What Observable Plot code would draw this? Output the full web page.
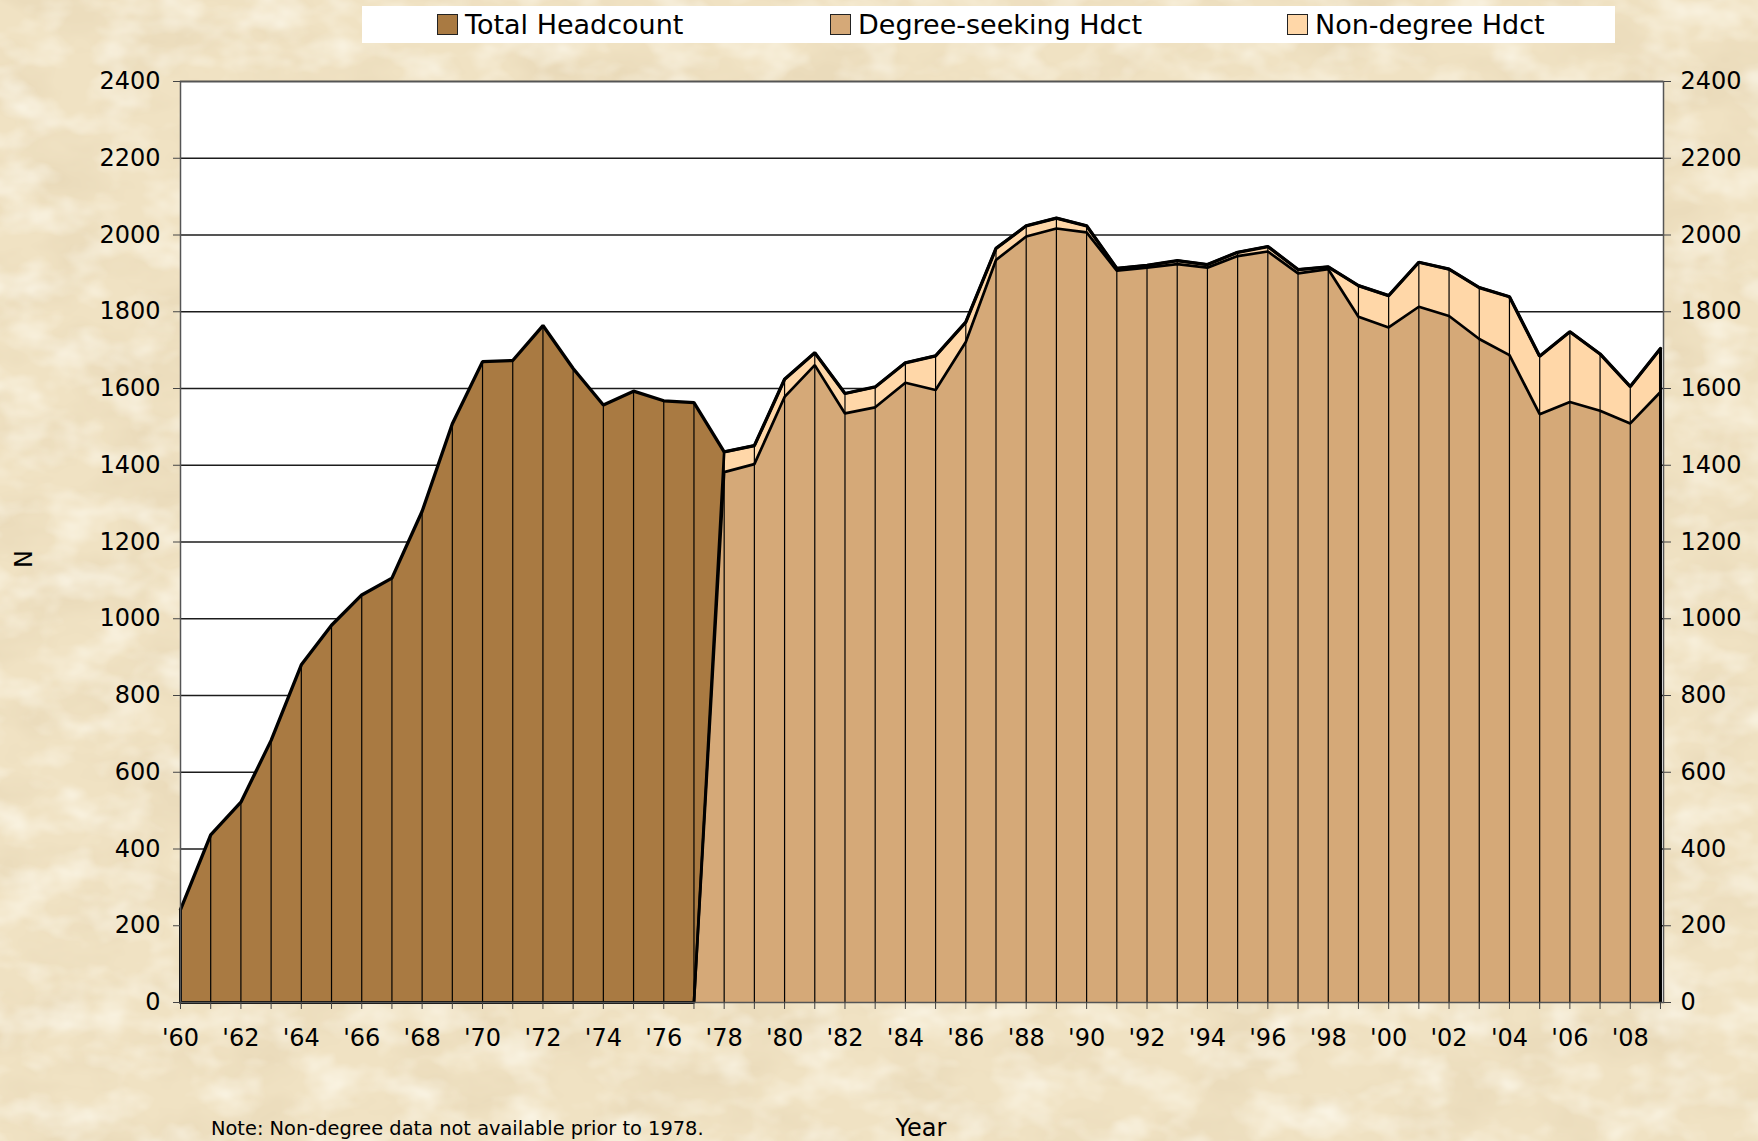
<!DOCTYPE html>
<html>
<head>
<meta charset="utf-8">
<script src="https://cdn.jsdelivr.net/npm/d3@7"></script>
<script src="https://cdn.jsdelivr.net/npm/@observablehq/plot@0.6"></script>
<style>
html, body { margin: 0; padding: 0; }
body { width: 1758px; height: 1141px; overflow: hidden; background: #EEDFBF; font-family: "DejaVu Sans", Verdana, sans-serif; }
#wrap { position: relative; width: 1758px; height: 1141px; overflow: hidden; }
#tex { position: absolute; left: 0; top: 0; width: 1758px; height: 1141px; }
#chart { position: absolute; left: 0; top: 0; }
#legend { position: absolute; left: 362px; top: 6px; width: 1253px; height: 37px; background: #ffffff; }
.item { position: absolute; top: 0; height: 37px; display: flex; align-items: center; font-size: 27px; color: #000; white-space: nowrap; }
.sw { width: 19px; height: 19px; border: 1px solid #222; margin-right: 7px; box-sizing: content-box; }
.lbl { position: absolute; color: #000; white-space: nowrap; }
</style>
</head>
<body>
<div id="wrap">
  <svg id="tex" width="1758" height="1141">
    <filter id="paper" x="0" y="0" width="100%" height="100%">
      <feTurbulence type="fractalNoise" baseFrequency="0.01 0.018" numOctaves="4" seed="7"/>
      <feColorMatrix type="matrix" values="0 0 0 0 0.78  0 0 0 0 0.66  0 0 0 0 0.45  0 0 0 1.3 -0.52"/>
    </filter>
    <filter id="paper2" x="0" y="0" width="100%" height="100%">
      <feTurbulence type="fractalNoise" baseFrequency="0.02 0.03" numOctaves="3" seed="21"/>
      <feColorMatrix type="matrix" values="0 0 0 0 1  0 0 0 0 0.98  0 0 0 0 0.9  0 0 0 1.4 -0.6"/>
    </filter>
    <rect width="1758" height="1141" fill="#F0E2C3"/>
    <rect width="1758" height="1141" filter="url(#paper)"/>
    <rect width="1758" height="1141" filter="url(#paper2)"/>
  </svg>
  <div id="chart"></div>
  <div id="legend"></div>
  <div class="lbl" id="ylab" style="left:12px; top:542px; font-size:24px; transform: rotate(-90deg); transform-origin: 12px 14px;">N</div>
  <div class="lbl" id="xlab" style="left:0; width:1842px; text-align:center; top:1114px; font-size:24px;">Year</div>
  <div class="lbl" id="note" style="left:211px; top:1117px; font-size:19.4px;">Note: Non-degree data not available prior to 1978.</div>
</div>
<script>
// ---- data ----
const years = [1960,1961,1962,1963,1964,1965,1966,1967,1968,1969,
               1970,1971,1972,1973,1974,1975,1976,1977,1978,1979,
               1980,1981,1982,1983,1984,1985,1986,1987,1988,1989,
               1990,1991,1992,1993,1994,1995,1996,1997,1998,1999,
               2000,2001,2002,2003,2004,2005,2006,2007,2008,2009];

const totalHeadcount = [242,437,522,683,880,983,1062,1106,1280,1508,
                        1670,1673,1764,1652,1557,1593,1568,1563,1435,1451,
                        1624,1693,1587,1604,1667,1685,1773,1965,2024,2044,
                        2024,1913,1921,1933,1923,1955,1970,1910,1917,1868,
                        1842,1929,1911,1863,1839,1684,1748,1690,1605,1704];

const degreeSeeking = [0,0,0,0,0,0,0,0,0,0,
                       0,0,0,0,0,0,0,0,1382,1403,
                       1578,1661,1535,1551,1615,1596,1721,1935,1996,2017,
                       2007,1907,1915,1924,1915,1945,1957,1900,1911,1787,
                       1759,1813,1789,1729,1687,1533,1565,1542,1509,1591];

const nonDegree = [0,0,0,0,0,0,0,0,0,0,
                   0,0,0,0,0,0,0,0,53,48,
                   46,32,52,53,52,89,52,30,28,27,
                   17,6,6,9,8,10,13,10,6,81,
                   83,116,122,134,152,151,183,148,96,113];

const yTicks = [0,200,400,600,800,1000,1200,1400,1600,1800,2000,2200,2400];

const seriesNames = ["Total Headcount", "Degree-seeking Hdct", "Non-degree Hdct"];
const seriesColors = ["#A97A42", "#D5A978", "#FFD7A8"];

// ---- table built from the arrays ----
const data = years.map((year, i) => ({
  year,
  total: totalHeadcount[i],
  degree: degreeSeeking[i],
  nondeg: nonDegree[i],
  stackTop: degreeSeeking[i] + nonDegree[i]
}));

const fmtYear = d => (d % 2 === 0 ? "'" + String(d).slice(2) : "");
const fmtN = d => String(d);

const chart = Plot.plot({
  width: 1758,
  height: 1141,
  marginLeft: 180,
  marginRight: 95,
  marginTop: 81,
  marginBottom: 139,
  style: { background: "transparent", fontFamily: "'DejaVu Sans', Verdana, sans-serif", fontSize: "24px", color: "#000", overflow: "visible" },
  x: { type: "linear", domain: [years[0], years[years.length - 1] + 0.1] },
  y: { domain: [yTicks[0], yTicks[yTicks.length - 1]] },
  marks: [
    Plot.frame({ fill: "#ffffff" }),
    Plot.ruleY(yTicks.slice(1), { stroke: "#1c1c1c", strokeWidth: 1.3 }),
    Plot.areaY(data, { x: "year", y: "total", fill: seriesColors[0] }),
    Plot.areaY(data, { x: "year", y: "degree", fill: seriesColors[1] }),
    Plot.areaY(data, { x: "year", y1: "degree", y2: "stackTop", fill: seriesColors[2] }),
    Plot.ruleX(data, { x: "year", y1: 0, y2: "total", stroke: "#000", strokeWidth: 1.2 }),
    Plot.line(data, { x: "year", y: "degree", stroke: "#000", strokeWidth: 2.7, strokeLinejoin: "miter" }),
    Plot.line(data, { x: "year", y: "stackTop", stroke: "#000", strokeWidth: 2.7, strokeLinejoin: "miter" }),
    Plot.line(data, { x: "year", y: "total", stroke: "#000", strokeWidth: 3.3, strokeLinejoin: "miter" }),
    Plot.ruleX([data[0], data[data.length - 1]], { x: "year", y1: 0, y2: "total", stroke: "#000", strokeWidth: 3 }),
    Plot.frame({ stroke: "#555", strokeWidth: 1.5 }),
    Plot.axisY({ anchor: "left", ticks: yTicks, tickSize: 7, tickPadding: 13, fontSize: 24, label: null, stroke: "#444", tickFormat: fmtN }),
    Plot.axisY({ anchor: "right", ticks: yTicks, tickSize: 7, tickPadding: 10, fontSize: 24, label: null, stroke: "#444", tickFormat: fmtN }),
    Plot.axisX({ anchor: "bottom", ticks: years, tickSize: 7, tickPadding: 19, fontSize: 24, label: null, tickFormat: fmtYear, stroke: "#444" })
  ]
});
document.getElementById("chart").appendChild(chart);

// ---- legend ----
const legendPos = [75, 468, 925];
const legend = document.getElementById("legend");
seriesNames.forEach((name, i) => {
  const it = document.createElement("div");
  it.className = "item";
  it.style.left = legendPos[i] + "px";
  const sw = document.createElement("div");
  sw.className = "sw";
  sw.style.background = seriesColors[i];
  const tx = document.createElement("span");
  tx.textContent = name;
  it.appendChild(sw);
  it.appendChild(tx);
  legend.appendChild(it);
});
</script>
</body>
</html>
